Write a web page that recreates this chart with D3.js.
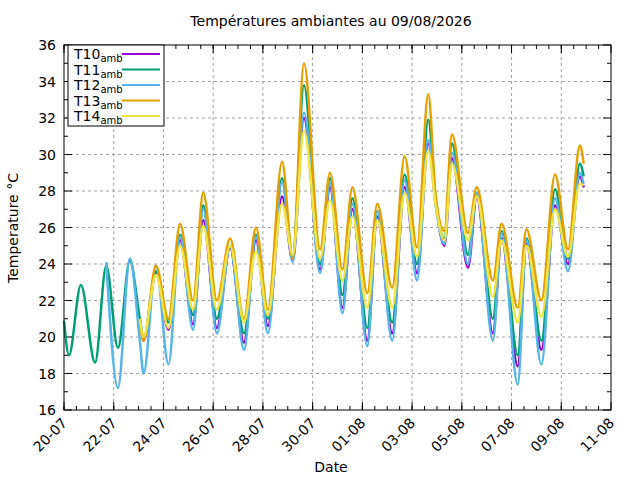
<!DOCTYPE html>
<html><head><meta charset="utf-8">
<script src="https://cdn.jsdelivr.net/npm/d3@7"></script>
<style>body{margin:0;background:#fff}text{font-family:"DejaVu Sans",sans-serif}</style>
</head><body><svg id="c" width="640" height="480"></svg>
<script>
// day offsets since 20-07-2026 00:00
const days = [0,0.2,0.68,1.25,1.7,2.17,2.65,3.05,3.2,3.7,4.2,4.67,5.19,5.6,6.15,6.68,7.24,7.72,8.2,8.77,9.2,9.65,10.3,10.7,11.2,11.6,12.2,12.6,13.2,13.7,14.2,14.65,14.95,15.3,15.6,16.25,16.6,17.25,17.6,18.25,18.6,19.2,19.75,20.27,20.75,20.9];
const _ = null;
const T10 = [_,_,_,_,_,_,_,21.0,19.8,23.5,20.4,25.3,20.7,26.4,20.5,24.9,19.7,25.3,20.6,27.7,24.2,32.0,23.7,28.2,21.6,27.0,19.8,26.6,20.2,28.2,23.5,30.6,27.3,25.0,29.8,23.8,27.7,20.2,25.4,18.4,25.1,19.3,27.2,24.0,28.8,28.2];
const T11 = [20.9,19.0,22.85,18.6,23.9,19.4,24.2,21.0,19.9,23.6,20.8,25.6,21.2,27.2,21.0,25.0,20.2,25.6,21.0,28.7,24.4,33.8,24.0,28.7,22.3,27.6,20.5,26.9,20.8,28.9,24.0,31.9,27.5,25.4,30.6,24.5,27.9,21.0,25.8,19.0,25.4,19.8,28.1,24.3,29.5,28.8];
const T12 = [_,_,_,_,24.1,17.2,24.3,19.8,18.0,23.9,18.5,25.5,20.4,27.0,20.2,25.0,19.3,25.5,20.2,28.5,24.1,32.3,23.5,28.4,21.3,27.3,19.5,26.9,19.8,28.6,23.1,30.8,27.2,25.1,30.1,24.0,27.9,19.8,25.7,17.4,25.3,18.5,27.6,23.6,29.0,28.4];
const T13 = [_,_,_,_,_,_,_,20.9,19.8,23.9,21.0,26.2,22.0,27.9,22.0,25.4,21.0,26.0,21.5,29.6,24.3,35.0,24.8,29.0,23.7,28.2,22.4,27.3,22.7,29.9,24.9,33.3,27.7,25.8,31.1,25.7,28.2,23.1,26.2,21.6,25.9,22.0,28.9,24.8,30.5,29.5];
const T14 = [_,_,_,_,_,_,_,21.0,20.0,23.4,20.5,25.0,21.5,26.1,21.5,25.0,20.8,24.7,21.2,27.3,24.5,31.3,24.3,27.5,23.1,26.6,21.6,26.4,21.6,27.9,24.4,30.2,27.2,25.3,29.5,25.3,27.7,22.2,25.3,20.8,25.0,21.1,27.0,24.4,28.4,28.3];
const names = ['T10','T11','T12','T13','T14'];
const colors = ['#9400d3','#009e73','#56b4e9','#e69f00','#f0e442'];
const yTicks = [16,18,20,22,24,26,28,30,32,34,36];

const series = [T10,T11,T12,T13,T14];
const t0 = new Date(2026,6,20);
const t1 = new Date(2026,7,11);
const toDate = (d) => new Date(t0.getTime() + d * 864e5);

const L = 64, R = 611, T = 45, B = 410;
const svg = d3.select('#c');
const x = d3.scaleTime().domain([t0, t1]).range([L, R]);
const y = d3.scaleLinear().domain([16, 36]).range([B, T]);

const majors = d3.timeDay.range(t0, d3.timeDay.offset(t1, 1), 2);
const minors = d3.timeHour.every(12).range(t0, t1);

// grid
const g = svg.append('g');
majors.slice(1, -1).forEach((d) => g.append('line').attr('x1', x(d)).attr('x2', x(d)).attr('y1', T).attr('y2', B));
yTicks.slice(1, -1).forEach((v) => g.append('line').attr('x1', L).attr('x2', R).attr('y1', y(v)).attr('y2', y(v)));
g.selectAll('line').attr('stroke', '#a0a0a0').attr('stroke-dasharray', '3,3').attr('stroke-width', 1);

// ticks (mirrored)
const tk = svg.append('g').attr('stroke', '#000');
majors.forEach((d) => {
  tk.append('line').attr('x1', x(d)).attr('x2', x(d)).attr('y1', B).attr('y2', B - 8);
  tk.append('line').attr('x1', x(d)).attr('x2', x(d)).attr('y1', T).attr('y2', T + 8);
});
minors.forEach((d) => {
  tk.append('line').attr('x1', x(d)).attr('x2', x(d)).attr('y1', B).attr('y2', B - 4);
  tk.append('line').attr('x1', x(d)).attr('x2', x(d)).attr('y1', T).attr('y2', T + 4);
});
d3.range(16, 37).forEach((v) => {
  const len = v % 2 === 0 ? 8 : 4;
  tk.append('line').attr('x1', L).attr('x2', L + len).attr('y1', y(v)).attr('y2', y(v));
  tk.append('line').attr('x1', R).attr('x2', R - len).attr('y1', y(v)).attr('y2', y(v));
});

// labels
yTicks.forEach((v) => svg.append('text').attr('x', L - 8).attr('y', y(v) + 5).attr('text-anchor', 'end').attr('font-size', 14).text(v));
const fmt = d3.timeFormat('%d-%m');
majors.forEach((d) => svg.append('text')
  .attr('transform', `translate(${x(d) + 4},${B + 14}) rotate(-45)`)
  .attr('text-anchor', 'end').attr('font-size', 14).text(fmt(d)));

// lines
const line = d3.line()
  .defined((d) => d[1] != null)
  .x((d) => x(toDate(d[0])))
  .y((d) => y(d[1]))
  .curve(d3.curveMonotoneX);
series.forEach((s, i) => {
  svg.append('path').datum(days.map((d, j) => [d, s[j]]))
    .attr('d', line).attr('fill', 'none').attr('stroke', colors[i]).attr('stroke-width', 2.5);
});

// frame
svg.append('rect').attr('x', L).attr('y', T).attr('width', R - L).attr('height', B - T)
  .attr('fill', 'none').attr('stroke', '#000');

// legend
svg.append('rect').attr('x', 68).attr('y', 45).attr('width', 96).attr('height', 81)
  .attr('fill', '#fff').attr('stroke', '#000');
names.forEach((n, i) => {
  const yy = 59 + i * 15.5;
  const t = svg.append('text').attr('x', 74).attr('y', yy).attr('font-size', 14);
  t.append('tspan').text(n);
  t.append('tspan').attr('dy', 3).attr('font-size', 10).text('amb');
  svg.append('line').attr('x1', 122).attr('x2', 160).attr('y1', yy - 5).attr('y2', yy - 5)
    .attr('stroke', colors[i]).attr('stroke-width', 2);
});

svg.append('text').attr('x', 331).attr('y', 26).attr('text-anchor', 'middle').attr('font-size', 14).text('Températures ambiantes au 09/08/2026');
svg.append('text').attr('x', 331).attr('y', 472).attr('text-anchor', 'middle').attr('font-size', 14).text('Date');
svg.append('text').attr('transform', 'translate(18,228) rotate(-90)').attr('text-anchor', 'middle').attr('font-size', 14).text('Temperature °C');
</script></body></html>
